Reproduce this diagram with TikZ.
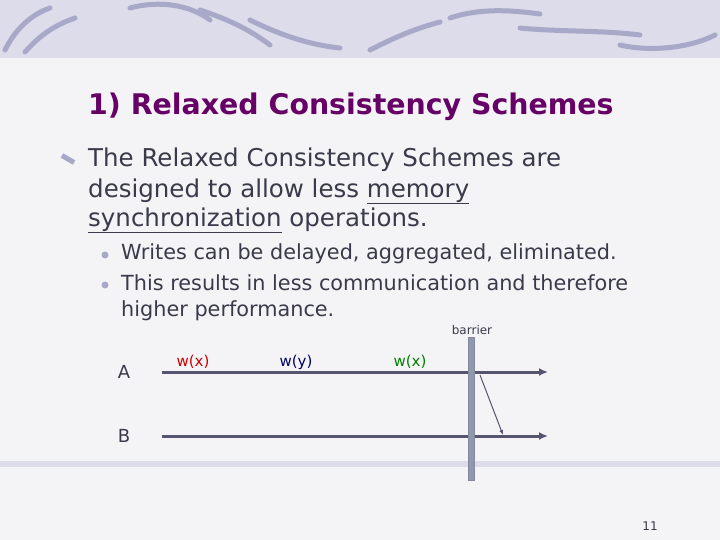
\documentclass[tikz,border=0pt]{standalone}
\usepackage{fontspec}
\setmainfont{DejaVu Sans}
\usepackage{xcolor}
\definecolor{bg}{HTML}{F4F4F6}
\definecolor{band}{HTML}{DCDCEA}
\definecolor{wave}{HTML}{A8A8C8}
\definecolor{ttl}{HTML}{660066}
\definecolor{txt}{HTML}{3A3A4A}
\definecolor{ln}{HTML}{555570}
\definecolor{bar}{HTML}{8A9AB0}
\begin{document}
\begin{tikzpicture}[x=1pt,y=-1pt,
  body/.style={anchor=base west,inner sep=0,text=txt,font=\fontsize{24.5}{26}\selectfont},
  sub/.style={anchor=base west,inner sep=0,text=txt,font=\fontsize{20.8}{22}\selectfont},
  wlab/.style={anchor=base,inner sep=0,font=\fontsize{15}{17}\selectfont},
  proc/.style={anchor=center,inner sep=0,text=txt,font=\fontsize{18}{20}\selectfont},
  time/.style={ln,line width=3pt,-{Latex[length=9pt,width=8pt]}},
  wavy/.style={wave,line width=5pt,line cap=round}]
\usetikzlibrary{arrows.meta}
\useasboundingbox (0,0) rectangle (720,540);
\fill[bg] (0,0) rectangle (720,540);
\fill[band] (0,0) rectangle (720,58);
\draw[wavy] (5,50) .. controls (15,30) and (30,15) .. (50,8);
\draw[wavy] (25,52) .. controls (40,35) and (55,25) .. (75,18);
\draw[wavy] (130,8) .. controls (160,0) and (190,5) .. (210,20);
\draw[wavy] (200,10) .. controls (230,20) and (250,30) .. (270,45);
\draw[wavy] (250,20) .. controls (280,35) and (310,45) .. (340,48);
\draw[wavy] (370,50) .. controls (390,40) and (410,30) .. (440,22);
\draw[wavy] (450,18) .. controls (480,8) and (510,10) .. (540,14);
\draw[wavy] (520,28) .. controls (560,32) and (600,30) .. (640,35);
\draw[wavy] (620,45) .. controls (650,52) and (690,48) .. (715,35);
\fill[band] (0,461) rectangle (720,467);
\node[anchor=base west,inner sep=0,text=ttl,font=\bfseries\fontsize{28.4}{30}\selectfont] (title) at (88,115) {1) Relaxed Consistency Schemes};
\node[fill=wave,rotate=-30,minimum width=14pt,minimum height=5pt,inner sep=0] (b1) at (68,159) {};
\node[body] (l1) at (88,167) {The Relaxed Consistency Schemes are};
\node[body] (l2) at (88,197) {designed to allow less \underline{memory}};
\node[body] (l3) at (88,226) {\underline{synchronization} operations.};
\node[circle,fill=wave,minimum size=7pt,inner sep=0] (s1) at (105,255) {};
\node[circle,fill=wave,minimum size=7pt,inner sep=0] (s2) at (105,285) {};
\node[sub] (m1) at (121,259) {Writes can be delayed, aggregated, eliminated.};
\node[sub] (m2) at (121,290) {This results in less communication and therefore};
\node[sub] (m3) at (121,316) {higher performance.};
\node[anchor=base,inner sep=0,text=txt,font=\fontsize{12}{14}\selectfont] (barlab) at (472,334) {barrier};
\node[proc] (A) at (124,372) {A};
\node[proc] (B) at (124,436) {B};
\coordinate (a0) at (162,372); \coordinate (a1) at (548,372);
\coordinate (b0) at (162,436); \coordinate (b1e) at (548,436);
\draw[time] (a0) -- (a1);
\draw[time] (b0) -- (b1e);
\node[wlab,text=red!80!black] (w1) at (193,366) {w(x)};
\node[wlab,text=blue!40!black] (w2) at (296,366) {w(y)};
\node[wlab,text=green!50!black] (w3) at (410,366) {w(x)};
\node[draw=ln!70,fill=bar,minimum width=6pt,minimum height=143pt,inner sep=0,line width=0.8pt] (barrier) at (471,408.5) {};
\coordinate (m0) at (480,375); \coordinate (mb) at (503,435);
\draw[ln,line width=1pt,-{Latex[length=5pt,width=4pt]}] (m0) -- (mb);
\node[anchor=base,inner sep=0,text=txt,font=\rmfamily\fontsize{12}{13}\selectfont] (pg) at (650,530) {11};
\end{tikzpicture}
\end{document}
